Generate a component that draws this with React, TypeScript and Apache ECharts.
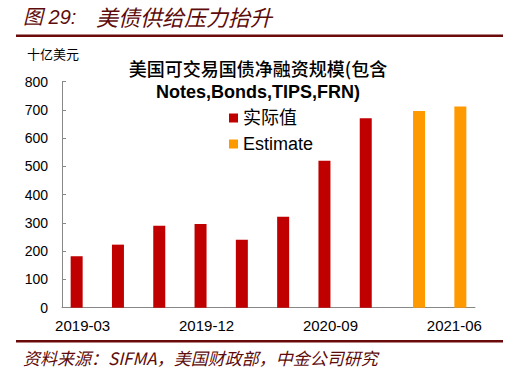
import React, { useEffect, useRef } from "react";
import * as echarts from "echarts";

const categories = [
  "2019-03", "2019-06", "2019-09", "2019-12", "2020-03",
  "2020-06", "2020-09", "2020-12", "2021-03", "2021-06",
];
const actualValues: (number | string)[] = [182, 223, 290, 296, 240, 322, 520, 670, "-", "-"];
const estimateValues: (number | string)[] = ["-", "-", "-", "-", "-", "-", "-", "-", 696, 712];
const seriesNames = ["实际值", "Estimate"];

const SANS = "'Liberation Sans', Arial, 'Noto Sans CJK SC', sans-serif";
const CJK = "'Noto Sans CJK SC', 'Liberation Sans', sans-serif";
const MAROON = "#5E0B0B";

export default function App() {
  const ref = useRef<HTMLDivElement>(null);
  useEffect(() => {
    if (!ref.current) return;
    const chart = echarts.init(ref.current, null, { renderer: "svg" });
    chart.setOption({
      animation: false,
      backgroundColor: "#ffffff",
      grid: { left: 62, right: 42, top: 81.5, bottom: 72.3, containLabel: false },
      legend: {
        orient: "vertical",
        left: 229,
        top: 109,
        padding: 0,
        itemWidth: 9,
        itemHeight: 9,
        itemGap: 8,
        icon: "rect",
        textStyle: { fontSize: 18, color: "#000", fontFamily: SANS },
        data: seriesNames,
      },
      xAxis: {
        type: "category",
        data: categories,
        axisLine: { lineStyle: { color: "#888888", width: 1 } },
        axisTick: { inside: true, length: 4, lineStyle: { color: "#888888" } },
        axisLabel: { interval: 2, color: "#000", fontSize: 15, fontFamily: SANS, margin: 10 },
      },
      yAxis: {
        type: "value",
        min: 0,
        max: 800,
        interval: 100,
        splitLine: { show: false },
        axisLine: { show: true, lineStyle: { color: "#888888", width: 1 } },
        axisTick: { show: true, inside: true, length: 4, lineStyle: { color: "#888888" } },
        axisLabel: { color: "#000", fontSize: 14, fontFamily: SANS, margin: 14 },
      },
      series: [
        {
          name: seriesNames[0],
          type: "bar",
          data: actualValues,
          barWidth: 12,
          barGap: "0%",
          itemStyle: { color: "#C00000" },
        },
        {
          name: seriesNames[1],
          type: "bar",
          data: estimateValues,
          barWidth: 12,
          barGap: "0%",
          itemStyle: { color: "#FF9900" },
        },
      ],
      graphic: [
        {
          type: "text",
          left: 23,
          top: 7,
          style: { text: "图 29:", fontSize: 20, fontStyle: "italic", fill: MAROON, fontFamily: SANS },
        },
        {
          type: "text",
          left: 96,
          top: 5,
          style: { text: "美债供给压力抬升", fontSize: 22, fontStyle: "italic", fill: MAROON, fontFamily: CJK },
        },
        {
          type: "rect",
          shape: { x: 16, y: 34.5, width: 487, height: 2.5 },
          style: { fill: "#6B0A0A" },
        },
        {
          type: "text",
          left: 27,
          top: 47,
          style: { text: "十亿美元", fontSize: 13, fill: "#000", fontFamily: CJK },
        },
        {
          type: "text",
          x: 258,
          y: 68,
          style: {
            text: "美国可交易国债净融资规模(包含",
            fontSize: 18,
            fontWeight: 500,
            fill: "#000",
            fontFamily: CJK,
            align: "center",
            verticalAlign: "middle",
          },
        },
        {
          type: "text",
          x: 258,
          y: 92,
          style: {
            text: "Notes,Bonds,TIPS,FRN)",
            fontSize: 18,
            fontWeight: "bold",
            fill: "#000",
            fontFamily: SANS,
            align: "center",
            verticalAlign: "middle",
          },
        },
        {
          type: "rect",
          shape: { x: 16, y: 340, width: 487, height: 2.5 },
          style: { fill: "#6B0A0A" },
        },
        {
          type: "text",
          left: 23,
          top: 349,
          style: {
            text: "资料来源：SIFMA，美国财政部，中金公司研究",
            fontSize: 17,
            fontStyle: "italic",
            fill: MAROON,
            fontFamily: CJK,
          },
        },
      ],
    });
    return () => chart.dispose();
  }, []);
  return (
    <div
      ref={ref}
      style={{ position: "fixed", left: 0, top: 0, width: 517, height: 380, background: "#fff" }}
    />
  );
}
